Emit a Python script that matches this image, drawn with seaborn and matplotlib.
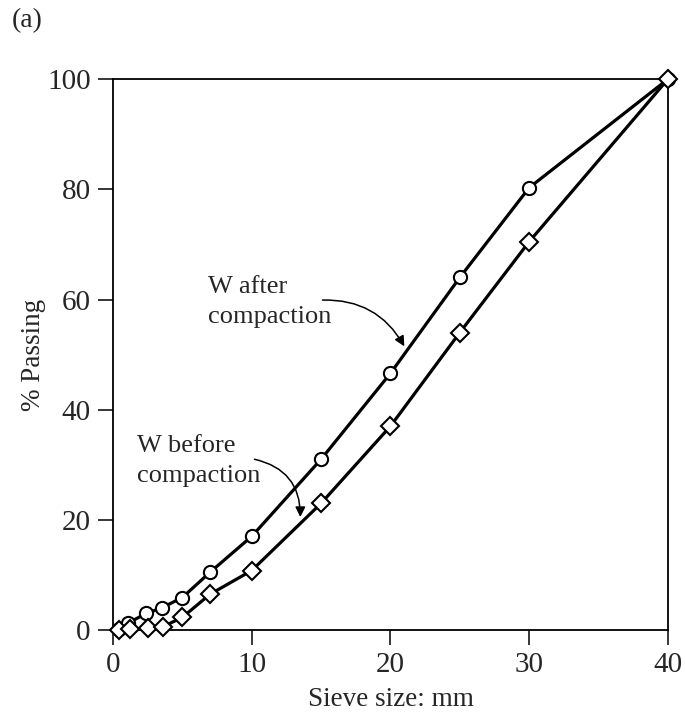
import matplotlib
matplotlib.use("Agg")
import matplotlib.pyplot as plt
import seaborn as sns
import pandas as pd

# Data
sieve_after = [0.4, 1.1, 2.4, 3.5, 5.0, 7.0, 10.0, 15.0, 20.0, 25.0, 30.0, 40.0]
passing_after = [0.2, 1.3, 3.0, 4.0, 5.9, 10.5, 17.0, 31.0, 46.6, 64.0, 80.3, 100.0]
sieve_before = [0.4, 1.2, 2.5, 3.6, 5.0, 7.0, 10.0, 15.0, 20.0, 25.0, 30.0, 40.0]
passing_before = [0.0, 0.2, 0.3, 0.6, 2.3, 6.5, 10.8, 23.0, 37.0, 54.0, 70.5, 100.0]
x_ticks = [0, 10, 20, 30, 40]
y_ticks = [0, 20, 40, 60, 80, 100]
label_after = "W after\ncompaction"
label_before = "W before\ncompaction"

sns.set_theme(style="white")
plt.rcParams["font.family"] = ["Liberation Serif", "DejaVu Serif"]

fig = plt.figure(figsize=(6.85, 7.2), dpi=100)
ax = fig.add_axes([0.165, 0.125, 0.81, 0.765])

df_a = pd.DataFrame({"x": sieve_after, "y": passing_after})
df_b = pd.DataFrame({"x": sieve_before, "y": passing_before})

sns.lineplot(data=df_a, x="x", y="y", ax=ax, color="black", lw=2.3,
             marker="o", markersize=9.5, markerfacecolor="white",
             markeredgecolor="black", markeredgewidth=1.5, clip_on=False, zorder=3)
sns.lineplot(data=df_b, x="x", y="y", ax=ax, color="black", lw=2.3,
             marker="D", markersize=9.5, markerfacecolor="white",
             markeredgecolor="black", markeredgewidth=1.5, clip_on=False, zorder=4)

ax.set_xlim(0, 40)
ax.set_ylim(0, 100)
ax.set_xticks(x_ticks)
ax.set_yticks(y_ticks)
ax.tick_params(axis="both", direction="out", length=11, width=1.1, color="black",
               labelsize=21, pad=5, bottom=True, left=True)
for s in ax.spines.values():
    s.set_color("black")
    s.set_linewidth(1.3)
ax.set_xlabel("Sieve size: mm", fontsize=19.5, labelpad=6)
ax.set_ylabel("% Passing", fontsize=19.5, labelpad=1)

ax.text(6.85, 59.5, label_after, fontsize=19, ha="left", va="center", linespacing=1.45)
ax.annotate("", xy=(21.0, 51.5), xytext=(15.1, 59.9),
            arrowprops=dict(arrowstyle="-|>", color="black", lw=1.1,
                            mutation_scale=15, shrinkA=0, shrinkB=0,
                            connectionstyle="arc3,rad=-0.3"))

ax.text(1.73, 30.7, label_before, fontsize=19, ha="left", va="center", linespacing=1.45)
ax.annotate("", xy=(13.5, 20.5), xytext=(10.2, 31.0),
            arrowprops=dict(arrowstyle="-|>", color="black", lw=1.1,
                            mutation_scale=15, shrinkA=0, shrinkB=0,
                            connectionstyle="arc3,rad=-0.4"))

fig.text(0.017, 0.972, "(a)", fontsize=20, ha="left", va="center")

fig.savefig("out.png", dpi=100, facecolor="white")
